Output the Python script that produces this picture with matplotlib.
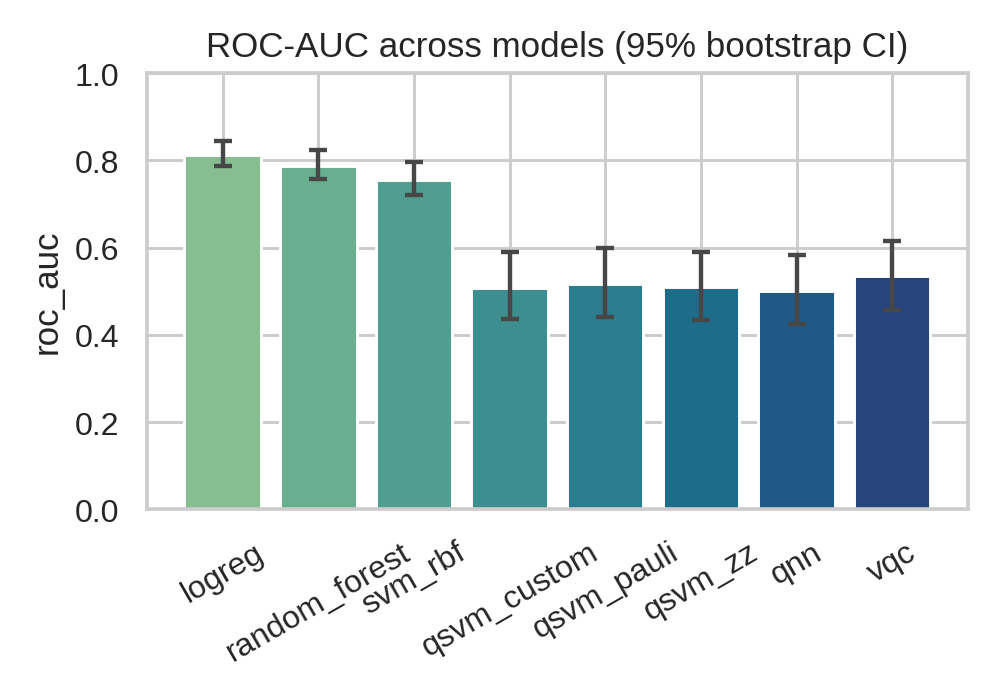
import numpy as np
import matplotlib
matplotlib.use("Agg")
import matplotlib.pyplot as plt
import seaborn as sns

models = ["logreg", "random_forest", "svm_rbf", "qsvm_custom",
          "qsvm_pauli", "qsvm_zz", "qnn", "vqc"]
roc_auc = [0.812, 0.787, 0.755, 0.507, 0.516, 0.509, 0.500, 0.534]
ci_low = [0.787, 0.757, 0.720, 0.436, 0.440, 0.434, 0.424, 0.456]
ci_high = [0.845, 0.824, 0.797, 0.589, 0.599, 0.589, 0.583, 0.615]

sns.set_theme(style="whitegrid")
plt.rcParams['font.family'] = ['Liberation Sans', 'DejaVu Sans']

fig, ax = plt.subplots(figsize=(4.8, 3.3333), dpi=210)
colors = sns.color_palette("crest", n_colors=len(models))
x = np.arange(len(models))
vals = np.array(roc_auc)
yerr = [vals - np.array(ci_low), np.array(ci_high) - vals]
ax.bar(x, vals, width=0.8, color=colors)
ax.errorbar(x, vals, yerr=yerr, fmt="none", ecolor="#474747",
            elinewidth=1.5, capsize=3, capthick=1.5)

ax.set_xticks(x)
ax.set_xticklabels(models, rotation=30)
ax.set_ylim(0, 1)
ax.set_ylabel("roc_auc")
ax.set_title("ROC-AUC across models (95% bootstrap CI)")

fig.subplots_adjust(left=0.146, right=0.960, top=0.894, bottom=0.271)
fig.savefig("out.png", dpi=210)
